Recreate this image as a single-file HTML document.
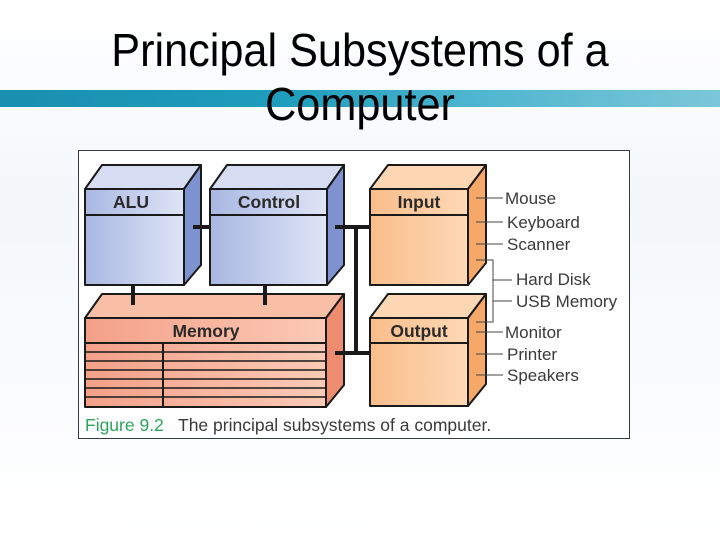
<!DOCTYPE html>
<html><head><style>
body{margin:0;width:720px;height:540px;overflow:hidden;background:linear-gradient(#ffffff 0px,#f4f7fa 200px,#ffffff 540px);font-family:"Liberation Sans",sans-serif;position:relative}
.band{position:absolute;left:0;top:90px;width:720px;height:17px;background:linear-gradient(90deg,#1a8fb0,#1f9dbc 40%,#4db5cf 65%,#7cc6d8 100%)}
.t{position:absolute;left:0;width:720px;text-align:center;font-size:46px;color:#000;line-height:1;transform:scaleX(0.94)}
</style></head><body>
<div class="band"></div>
<div class="t" style="top:27px;">Principal Subsystems of a</div>
<div class="t" style="top:81px;">Computer</div>
<svg width="720" height="540" style="position:absolute;left:0;top:0" font-family="Liberation Sans, sans-serif">
<defs>
<linearGradient id="bf" x1="0" x2="1"><stop offset="0" stop-color="#a9b7e2"/><stop offset="1" stop-color="#dfe5f6"/></linearGradient>
<linearGradient id="of" x1="0" x2="1"><stop offset="0" stop-color="#f9bd8a"/><stop offset="1" stop-color="#fdd9b6"/></linearGradient>
<linearGradient id="mf" x1="0" x2="1"><stop offset="0" stop-color="#f4a088"/><stop offset="1" stop-color="#fbcab6"/></linearGradient>
</defs>
<rect x="78.5" y="150.5" width="551" height="288" fill="#fff" stroke="#333a45" stroke-width="1"/>
<g stroke="#1a1a1a" stroke-width="2" stroke-linejoin="round">
<polygon points="85,189 102,165 201,165 184,189" fill="#d6ddf2"/>
<polygon points="184,189 201,165 201,265 184,285" fill="#7d92cf"/>
<rect x="85" y="189" width="99" height="96" fill="url(#bf)"/>
<line x1="85" y1="215" x2="184" y2="215"/>
<polygon points="210,189 227,165 344,165 327,189" fill="#d6ddf2"/>
<polygon points="327,189 344,165 344,265 327,285" fill="#7d92cf"/>
<rect x="210" y="189" width="117" height="96" fill="url(#bf)"/>
<line x1="210" y1="215" x2="327" y2="215"/>
<polygon points="85,318 102,294 344,294 326,318" fill="#f8bfa6"/>
<polygon points="326,318 344,294 344,385 326,407" fill="#ee8c70"/>
<rect x="85" y="318" width="241" height="89" fill="url(#mf)"/>
<line x1="85" y1="343" x2="326" y2="343"/>
<g stroke-width="1.5">
<line x1="85" y1="352" x2="326" y2="352"/><line x1="85" y1="361" x2="326" y2="361"/>
<line x1="85" y1="370" x2="326" y2="370"/><line x1="85" y1="379" x2="326" y2="379"/>
<line x1="85" y1="388" x2="326" y2="388"/><line x1="85" y1="397" x2="326" y2="397"/>
</g>
<line x1="163" y1="343" x2="163" y2="407"/>
<polygon points="370,189 388,165 486,165 468,189" fill="#fdd7b4"/>
<polygon points="468,189 486,165 486,263 468,285" fill="#f6a868"/>
<rect x="370" y="189" width="98" height="96" fill="url(#of)"/>
<line x1="370" y1="215" x2="468" y2="215"/>
<polygon points="370,318 388,294 486,294 468,318" fill="#fdd7b4"/>
<polygon points="468,318 486,294 486,384 468,406" fill="#f6a868"/>
<rect x="370" y="318" width="98" height="88" fill="url(#of)"/>
<line x1="370" y1="343" x2="468" y2="343"/>
</g>
<g stroke="#1a1a1a" stroke-width="4">
<line x1="193" y1="227" x2="210" y2="227"/>
<line x1="335" y1="227" x2="370" y2="227"/>
<line x1="356" y1="227" x2="356" y2="353"/>
<line x1="335" y1="353" x2="370" y2="353"/>
<line x1="133" y1="285" x2="133" y2="305"/>
<line x1="265" y1="285" x2="265" y2="305"/>
</g>
<g stroke="#444" stroke-width="1" fill="none">
<line x1="476" y1="198" x2="503" y2="198"/>
<line x1="476" y1="222" x2="503" y2="222"/>
<line x1="476" y1="244" x2="503" y2="244"/>
<polyline points="476,260 493,260 493,322 476,322"/>
<line x1="493" y1="280" x2="512" y2="280"/>
<line x1="493" y1="301" x2="512" y2="301"/>
<line x1="476" y1="332" x2="503" y2="332"/>
<line x1="476" y1="354" x2="503" y2="354"/>
<line x1="476" y1="375" x2="503" y2="375"/>
</g>
<g font-size="17.5" font-weight="bold" fill="#2a2a2a" text-anchor="middle">
<text x="131" y="208">ALU</text>
<text x="269" y="208">Control</text>
<text x="206" y="337">Memory</text>
<text x="419" y="208">Input</text>
<text x="419" y="337">Output</text>
</g>
<g font-size="17" fill="#3a3a3a">
<text x="505" y="204">Mouse</text>
<text x="507" y="228">Keyboard</text>
<text x="507" y="250">Scanner</text>
<text x="516" y="285">Hard Disk</text>
<text x="516" y="307">USB Memory</text>
<text x="505" y="338">Monitor</text>
<text x="507" y="360">Printer</text>
<text x="507" y="381">Speakers</text>
</g>
<text x="85" y="431" font-size="17.5" fill="#2aa55a">Figure 9.2</text>
<text x="178" y="431" font-size="17.5" fill="#3a3a3a">The principal subsystems of a computer.</text>
</svg>
</body></html>
